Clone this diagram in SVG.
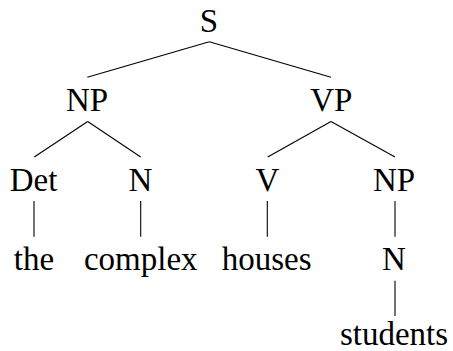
<svg xmlns="http://www.w3.org/2000/svg" width="453" height="351" viewBox="0 0 453 351">
<style>
line{stroke:#000;stroke-width:1.1}
</style>
<rect width="453" height="351" fill="#fff"/>
<g id="connectors">
<line x1="209.3" y1="41.7" x2="87.3" y2="77.3"/>
<line x1="209.3" y1="41.7" x2="331" y2="77.3"/>
<line x1="87.7" y1="121.5" x2="34.3" y2="157"/>
<line x1="87.7" y1="121.5" x2="140.7" y2="157"/>
<line x1="331" y1="121.5" x2="267.7" y2="157"/>
<line x1="331" y1="121.5" x2="395" y2="157"/>
<line x1="34" y1="201" x2="34" y2="236.7"/>
<line x1="140.7" y1="201" x2="140.7" y2="236.7"/>
<line x1="267.3" y1="201" x2="267.3" y2="236.7"/>
<line x1="395" y1="201" x2="395" y2="236.7"/>
<line x1="395" y1="280.7" x2="395" y2="316"/>
</g>
<g id="S"><text x="209" y="32" font-family="Liberation Serif, serif" font-size="33" text-anchor="middle">S</text></g>
<g id="NP1"><text x="87" y="111" font-family="Liberation Serif, serif" font-size="33" text-anchor="middle">NP</text></g>
<g id="VP"><text x="331.3" y="111" font-family="Liberation Serif, serif" font-size="33" text-anchor="middle">VP</text></g>
<g id="Det"><text x="33.5" y="190.7" font-family="Liberation Serif, serif" font-size="33" text-anchor="middle">Det</text></g>
<g id="N1"><text x="140.3" y="190.7" font-family="Liberation Serif, serif" font-size="33" text-anchor="middle">N</text></g>
<g id="V"><text x="267.5" y="190.7" font-family="Liberation Serif, serif" font-size="33" text-anchor="middle">V</text></g>
<g id="NP2"><text x="394" y="190.7" font-family="Liberation Serif, serif" font-size="33" text-anchor="middle">NP</text></g>
<g id="the"><text x="34" y="270" font-family="Liberation Serif, serif" font-size="33" text-anchor="middle">the</text></g>
<g id="complex"><text x="140.8" y="270" font-family="Liberation Serif, serif" font-size="33" text-anchor="middle">complex</text></g>
<g id="houses"><text x="266.7" y="270" font-family="Liberation Serif, serif" font-size="33" text-anchor="middle">houses</text></g>
<g id="N2"><text x="394" y="270" font-family="Liberation Serif, serif" font-size="33" text-anchor="middle">N</text></g>
<g id="students"><text x="394" y="345" font-family="Liberation Serif, serif" font-size="33" text-anchor="middle">students</text></g>
</svg>
